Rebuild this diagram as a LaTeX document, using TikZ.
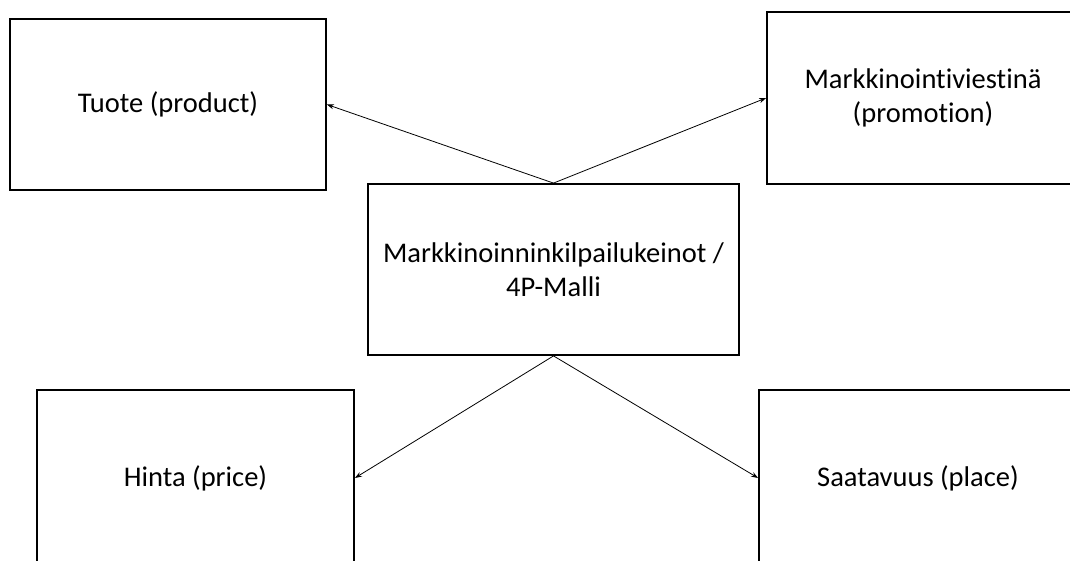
\documentclass[tikz,border=0pt]{standalone}
\usepackage{fontspec}
\setmainfont{Carlito}[RawFeature={-liga;-clig;-calt}]
\usepackage{tikz}
\usetikzlibrary{arrows.meta, positioning}

\begin{document}
\begin{tikzpicture}[
    x=1pt, y=-1pt,
    box/.style={rectangle, draw, line width=1.8pt, align=center,
        font=\fontsize{28.5}{34}\selectfont},
    link/.style={-{Stealth[length=7pt, width=5pt]}, line width=0.8pt}
]

% Canvas
\useasboundingbox (0,0) rectangle (1070,561);
\clip (0,0) rectangle (1070,561);

% Centre
\node[box, minimum width=371pt, minimum height=171pt] (malli) at (553.5,269.5) {Markkinoinninkilpailukeinot /\\4P-Malli};

% The four P's
\node[box, minimum width=316pt, minimum height=171pt] (tuote) at (168,104.5) {Tuote (product)};
\node[box, minimum width=312pt, minimum height=172pt] (viestinta) at (923,98) {Markkinointiviestinä\\(promotion)};
\node[box, minimum width=317pt, minimum height=176pt] (hinta) at (195.5,478) {Hinta (price)};
\node[box, minimum width=318pt, minimum height=176pt] (saatavuus) at (918,478) {Saatavuus (place)};

% Arrows
\draw[link] (malli.north) -- (tuote.east);
\draw[link] (malli.north) -- (viestinta.west);
\draw[link] (malli.south) -- (hinta.east);
\draw[link] (malli.south) -- (saatavuus.west);

\end{tikzpicture}
\end{document}
